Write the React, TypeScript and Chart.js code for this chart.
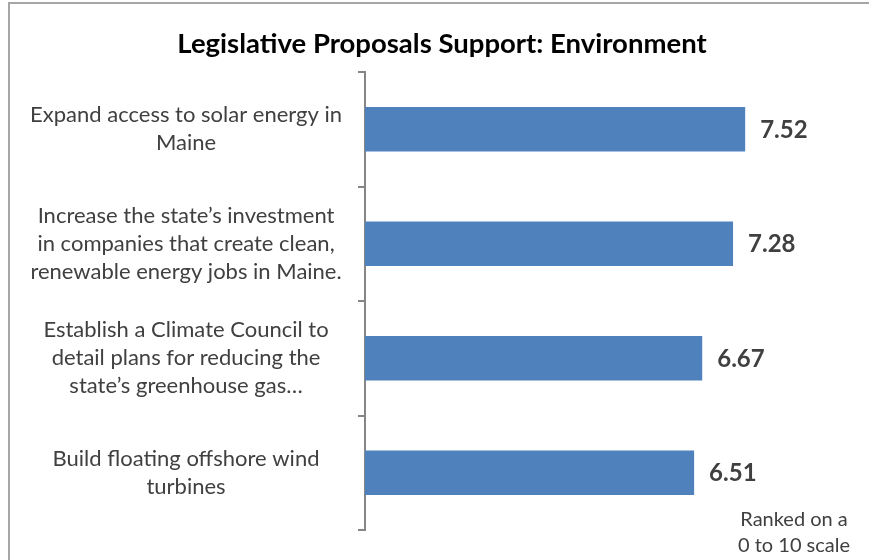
import React, { useEffect, useRef } from "react";
import { Chart, registerables } from "chart.js";

Chart.register(...registerables);

const categories: string[][] = [
  ["Expand access to solar energy in", "Maine"],
  ["Increase the state\u2019s investment", "in companies that create clean,", "renewable energy jobs in Maine."],
  ["Establish a Climate Council to", "detail plans for reducing the", "state\u2019s greenhouse gas\u2026"],
  ["Build floating offshore wind", "turbines"],
];
const values: number[] = [7.52, 7.28, 6.67, 6.51];
const titleText = "Legislative Proposals Support: Environment";
const noteLines = ["Ranked on a", "0 to 10 scale"];

const FONT = "Lato, 'Open Sans', sans-serif";

export default function App() {
  const ref = useRef<HTMLCanvasElement | null>(null);
  useEffect(() => {
    document.body.style.margin = "0";
    const ctx = ref.current!;
    const extras = {
      id: "extras",
      afterDatasetsDraw(chart: any) {
        const c = chart.ctx;
        const meta = chart.getDatasetMeta(0);
        c.save();
        c.font = `bold 24px ${FONT}`;
        c.fillStyle = "#404040";
        c.textAlign = "left";
        c.textBaseline = "middle";
        meta.data.forEach((bar: any, i: number) => {
          c.fillText(values[i].toFixed(2), bar.x + 15, bar.y + 1);
        });
        c.restore();
      },
      afterDraw(chart: any) {
        const c = chart.ctx;
        c.save();
        c.strokeStyle = "#a6a6a6";
        c.lineWidth = 2;
        c.beginPath();
        c.moveTo(9, 560);
        c.lineTo(9, 3);
        c.lineTo(869, 3);
        c.stroke();
        c.font = `bold 27.5px ${FONT}`;
        c.fillStyle = "#000000";
        c.textAlign = "center";
        c.textBaseline = "middle";
        c.fillText(titleText, 442, 44);
        c.font = `20px ${FONT}`;
        c.fillStyle = "#404040";
        c.fillText(noteLines[0], 794, 520);
        c.fillText(noteLines[1], 794, 546);
        c.restore();
      },
    };
    const chart = new Chart(ctx, {
      type: "bar",
      data: {
        labels: categories,
        datasets: [
          {
            data: values,
            backgroundColor: "#4F81BD",
            borderWidth: 0,
            barPercentage: 0.39,
            categoryPercentage: 1,
          },
        ],
      },
      options: {
        indexAxis: "y",
        animation: false,
        responsive: false,
        maintainAspectRatio: false,
        layout: { padding: { top: 72, right: 49, bottom: 30, left: 10 } },
        plugins: {
          legend: { display: false },
          tooltip: { enabled: false },
          title: { display: false },
        },
        scales: {
          x: { display: false, min: 0, max: 9 },
          y: {
            position: "left",
            border: { display: true, color: "#868686", width: 2 },
            grid: {
              display: true,
              drawOnChartArea: false,
              drawTicks: true,
              tickLength: 7,
              color: "#868686",
              lineWidth: 2,
              offset: true,
            },
            ticks: {
              crossAlign: "center",
              padding: 16,
              color: "#404040",
              font: { family: FONT, size: 22, lineHeight: 1.27 },
            },
            afterFit(scale: any) {
              scale.width = 355;
              scale.paddingTop = 0;
              scale.paddingBottom = 0;
            },
          },
        },
      },
      plugins: [extras],
    } as any);
    return () => chart.destroy();
  }, []);
  return (
    <div style={{ position: "absolute", left: 0, top: 0, width: 869, height: 560, background: "#fff" }}>
      <canvas ref={ref} width={869} height={560} style={{ width: 869, height: 560, display: "block" }} />
    </div>
  );
}
